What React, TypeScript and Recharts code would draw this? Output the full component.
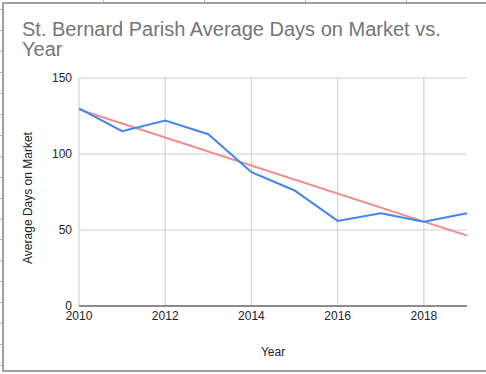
import React from 'react';
import { LineChart, Line, XAxis, YAxis, CartesianGrid } from 'recharts';

const years = [2010, 2011, 2012, 2013, 2014, 2015, 2016, 2017, 2018, 2019];
const daysOnMarket = [130, 115, 122, 113, 88, 76, 56, 61, 55.5, 61];
const trendYears = [2010, 2019];
const trendValues = [129.3, 46.3];
const xTicks = [2010, 2012, 2014, 2016, 2018];
const yTicks = [0, 50, 100, 150];

const data = years.map((y, i) => ({ year: y, days: daysOnMarket[i] }));
const trendData = trendYears.map((y, i) => ({ year: y, trend: trendValues[i] }));

const FONT = "Arial, 'Liberation Sans', sans-serif";
const rowMarks = Array.from({ length: 18 }, (_, i) => 9 + i * 20.95);
const colMarks = [103, 204, 305, 406];

export default function App() {
  return (
    <div style={{ position: 'absolute', left: 0, top: 0, width: 486, height: 374, background: '#fff', overflow: 'hidden', fontFamily: FONT }}>
      {rowMarks.map((y, i) => (
        <div key={'r' + i} style={{ position: 'absolute', left: 0, top: Math.round(y), width: 2, height: 1, background: '#b8b8b8' }} />
      ))}
      {colMarks.map((x, i) => (
        <div key={'c' + i} style={{ position: 'absolute', left: x, top: 0, width: 1, height: 2, background: '#b8b8b8' }} />
      ))}
      <div style={{ position: 'absolute', left: 2, top: 2, width: 486, height: 370, borderLeft: '2px solid #a0a0a0', borderTop: '2px solid #a0a0a0', borderBottom: '2px solid #a0a0a0', boxSizing: 'border-box' }} />
      <div style={{ position: 'absolute', left: 22, top: 20, width: 440, fontSize: 20, lineHeight: '19.5px', color: '#757575', fontFamily: FONT }}>
        St. Bernard Parish Average Days on Market vs. Year
      </div>
      <div style={{ position: 'absolute', left: 0, top: 0 }}>
        <LineChart width={486} height={374} margin={{ top: 78, right: 19, bottom: 18, left: 0 }}>
          <CartesianGrid stroke="#cccccc" strokeWidth={1} horizontalValues={yTicks} verticalValues={xTicks} />
          <XAxis
            dataKey="year"
            type="number"
            domain={[2010, 2019]}
            ticks={xTicks}
            allowDuplicatedCategory={false}
            tickSize={0}
            tickMargin={5}
            height={50}
            axisLine={{ stroke: '#333333', strokeWidth: 1 }}
            tick={{ fill: '#222222', fontSize: 12, fontFamily: FONT }}
            label={{ value: 'Year', position: 'insideBottom', offset: 0, fill: '#222222', fontSize: 12, fontFamily: FONT }}
          />
          <YAxis
            type="number"
            domain={[0, 150]}
            ticks={yTicks}
            width={79}
            tickSize={0}
            tickMargin={7}
            axisLine={false}
            tick={{ fill: '#222222', fontSize: 12, fontFamily: FONT }}
            label={{
              content: (props: any) => {
                const vb = props.viewBox || { x: 0, y: 0, width: 79, height: 228 };
                const cx = vb.x + 28;
                const cy = vb.y + vb.height / 2 + 6;
                return (
                  <text x={cx} y={cy} transform={`rotate(-90, ${cx}, ${cy})`} textAnchor="middle" dominantBaseline="central" fill="#222222" fontSize={12} fontFamily={FONT}>
                    Average Days on Market
                  </text>
                );
              },
            }}
          />
          <Line data={trendData} dataKey="trend" stroke="#f48a8a" strokeWidth={2} dot={false} isAnimationActive={false} />
          <Line data={data} dataKey="days" stroke="#4285f4" strokeWidth={2} dot={false} isAnimationActive={false} />
        </LineChart>
      </div>
    </div>
  );
}
